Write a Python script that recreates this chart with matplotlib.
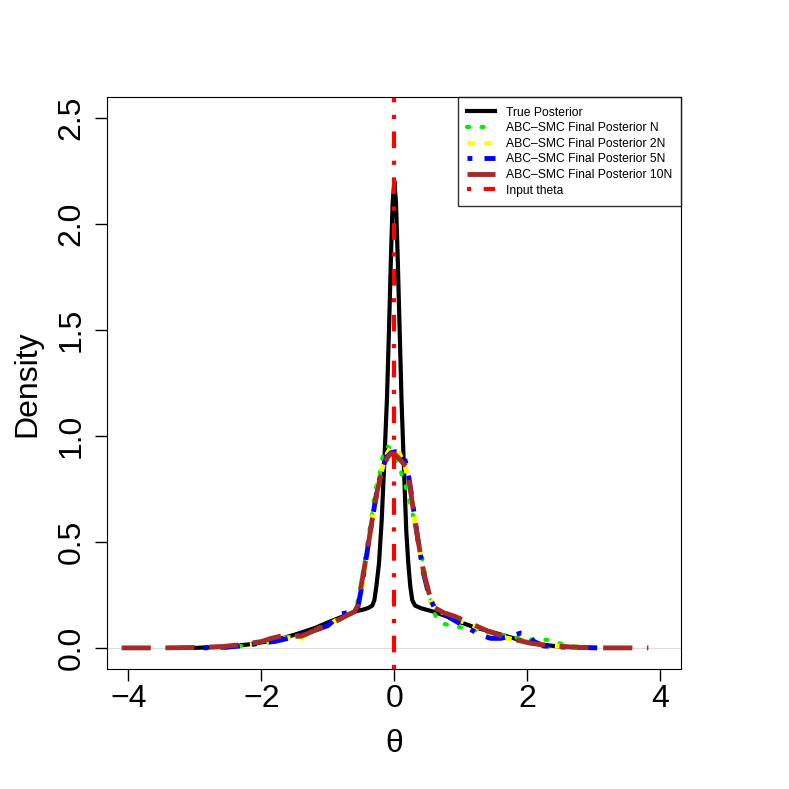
import matplotlib
matplotlib.use('Agg')
import matplotlib.pyplot as plt

plt.rcParams['font.family'] = ['Liberation Sans', 'DejaVu Sans']

# True posterior
true_x = [-3.0, -2.6, -2.2, -1.8, -1.5, -1.2, -1.0, -0.8, -0.6, -0.45, -0.38, -0.33, -0.30, -0.27,
          -0.23, -0.19, -0.15, -0.11, -0.08, -0.05, -0.025, 0.0, 0.025, 0.05, 0.08, 0.11, 0.15, 0.18,
          0.21, 0.24, 0.27, 0.31, 0.4, 0.6, 0.8, 1.0, 1.2, 1.5, 1.8, 2.1, 2.4, 2.7, 3.0]
true_y = [0.0, 0.005, 0.016, 0.036, 0.062, 0.093, 0.12, 0.145, 0.171, 0.182, 0.19, 0.2, 0.225, 0.29,
          0.40, 0.6, 0.88, 1.18, 1.5, 1.85, 2.1, 2.2, 2.1, 1.85, 1.5, 1.15, 0.8, 0.55,
          0.4, 0.29, 0.225, 0.2, 0.187, 0.17, 0.147, 0.12, 0.098, 0.072, 0.045, 0.02, 0.009, 0.003, 0.0]

# ABC-SMC final posterior, N
n_x = [-2.55, -2.2, -1.9, -1.6, -1.3, -1.0, -0.8, -0.6, -0.52, -0.46, -0.4, -0.34, -0.29, -0.22,
       -0.16, -0.1, -0.04, 0.04, 0.1, 0.19, 0.26, 0.34, 0.42, 0.5, 0.56, 0.62, 0.74, 0.94, 1.1, 1.3,
       1.55, 1.8, 2.0, 2.15, 2.35, 2.5, 2.7, 3.0]
n_y = [0.0, 0.012, 0.025, 0.045, 0.07, 0.105, 0.14, 0.17, 0.25, 0.38, 0.5, 0.62, 0.74, 0.82,
       0.93, 0.95, 0.93, 0.87, 0.83, 0.74, 0.65, 0.55, 0.42, 0.29, 0.2, 0.15, 0.113, 0.10, 0.09, 0.08,
       0.065, 0.05, 0.04, 0.038, 0.038, 0.02, 0.008, 0.0]

# ABC-SMC final posterior, 2N
n2_x = [-2.68, -2.3, -2.0, -1.7, -1.5, -1.4, -1.25, -1.0, -0.8, -0.6, -0.53, -0.47, -0.4, -0.33,
        -0.25, -0.17, -0.1, -0.04, 0.0, 0.05, 0.1, 0.16, 0.22, 0.28, 0.35, 0.42, 0.5, 0.58, 0.7,
        0.9, 1.1, 1.3, 1.5, 1.7, 1.9, 2.1, 2.4, 2.8, 3.19]
n2_y = [0.0, 0.01, 0.022, 0.045, 0.05, 0.045, 0.075, 0.11, 0.14, 0.17, 0.21, 0.32, 0.46, 0.61,
        0.76, 0.86, 0.92, 0.945, 0.946, 0.93, 0.9, 0.86, 0.78, 0.65, 0.52, 0.38, 0.27, 0.2, 0.17,
        0.14, 0.115, 0.09, 0.065, 0.045, 0.035, 0.022, 0.01, 0.003, 0.0]

# ABC-SMC final posterior, 5N
n5_x = [-2.87, -2.5, -2.2, -2.0, -1.8, -1.6, -1.4, -1.2, -1.0, -0.8, -0.65, -0.55, -0.5, -0.45,
        -0.4, -0.33, -0.25, -0.18, -0.11, -0.05, 0.02, 0.08, 0.14, 0.2, 0.25, 0.3, 0.36, 0.44, 0.52,
        0.6, 0.75, 0.9, 1.1, 1.3, 1.45, 1.6, 1.75, 1.9, 2.0, 2.1, 2.25, 2.5, 2.8, 3.05]
n5_y = [0.0, 0.004, 0.012, 0.025, 0.03, 0.045, 0.06, 0.082, 0.105, 0.16, 0.17, 0.19, 0.27, 0.37,
        0.47, 0.61, 0.76, 0.85, 0.90, 0.92, 0.925, 0.92, 0.91, 0.84, 0.74, 0.63, 0.5, 0.35, 0.25,
        0.19, 0.16, 0.13, 0.095, 0.06, 0.045, 0.045, 0.055, 0.07, 0.065, 0.03, 0.009, 0.004, 0.002, 0.0]

# ABC-SMC final posterior, 10N
n10_x = [-4.1, -3.5, -3.0, -2.6, -2.3, -2.0, -1.85, -1.7, -1.55, -1.4, -1.2, -1.0, -0.85, -0.7,
         -0.6, -0.55, -0.5, -0.45, -0.4, -0.33, -0.25, -0.18, -0.1, -0.05, 0.0, 0.05, 0.12, 0.19,
         0.24, 0.3, 0.36, 0.44, 0.52, 0.6, 0.75, 0.9, 1.05, 1.2, 1.4, 1.6, 1.8, 2.05, 2.3, 2.6,
         3.0, 3.4, 3.82]
n10_y = [0.0, 0.0, 0.002, 0.006, 0.015, 0.03, 0.045, 0.056, 0.055, 0.055, 0.082, 0.108, 0.13, 0.155,
         0.17, 0.2, 0.29, 0.38, 0.47, 0.61, 0.75, 0.84, 0.9, 0.915, 0.915, 0.9, 0.875, 0.85,
         0.75, 0.62, 0.5, 0.36, 0.26, 0.19, 0.165, 0.15, 0.13, 0.108, 0.08, 0.058, 0.04, 0.022, 0.012,
         0.005, 0.0, 0.0, 0.0]

input_theta = 0.0

fig = plt.figure(figsize=(7.89, 7.89), dpi=100)
ax = fig.add_axes([0.1356, 0.152, 0.7275, 0.7245])

ax.axhline(0, color='#dddddd', lw=0.8, zorder=0)
ax.plot(true_x, true_y, color='black', lw=3, label='True Posterior')
ax.plot(n_x, n_y, color='#00ee00', lw=3, linestyle=(0, (0.5, 3)), dash_capstyle='round',
        label='ABC\u2013SMC Final Posterior N')
ax.plot(n2_x, n2_y, color='yellow', lw=3.5, linestyle=(0, (1.5, 2)), label='ABC\u2013SMC Final Posterior 2N')
ax.plot(n5_x, n5_y, color='blue', lw=3.5, linestyle=(0, (1, 2.5, 4, 2.5)), label='ABC\u2013SMC Final Posterior 5N')
ax.plot(n10_x, n10_y, color='brown', lw=3.5, linestyle=(0, (6, 3)), label='ABC\u2013SMC Final Posterior 10N')
ax.axvline(input_theta, color='red', lw=3, linestyle=(0, (1, 3, 4, 3)), label='Input theta')

ax.set_xlim(-4.32, 4.31)
ax.set_ylim(-0.0998, 2.595)
ax.set_xticks([-4, -2, 0, 2, 4])
ax.set_xticklabels(['\u22124', '\u22122', '0', '2', '4'])
ax.set_yticks([0.0, 0.5, 1.0, 1.5, 2.0, 2.5])
ax.set_yticklabels(['0.0', '0.5', '1.0', '1.5', '2.0', '2.5'], rotation=90, va='center')
ax.tick_params(labelsize=23, length=8.4, width=1)
ax.tick_params(axis='x', pad=2.5)
ax.tick_params(axis='y', pad=6.5)
ax.set_xlabel('\u03b8', fontsize=23, labelpad=11)
ax.set_ylabel('Density', fontsize=23, labelpad=10)

leg = ax.legend(loc='upper right', fontsize=8.7, frameon=True, fancybox=False, borderaxespad=0,
                handlelength=2.3, handletextpad=0.9, labelspacing=0.3, borderpad=0.75)
leg.get_frame().set_edgecolor('black')
leg.get_frame().set_linewidth(1)

fig.savefig('out.png', dpi=100)
